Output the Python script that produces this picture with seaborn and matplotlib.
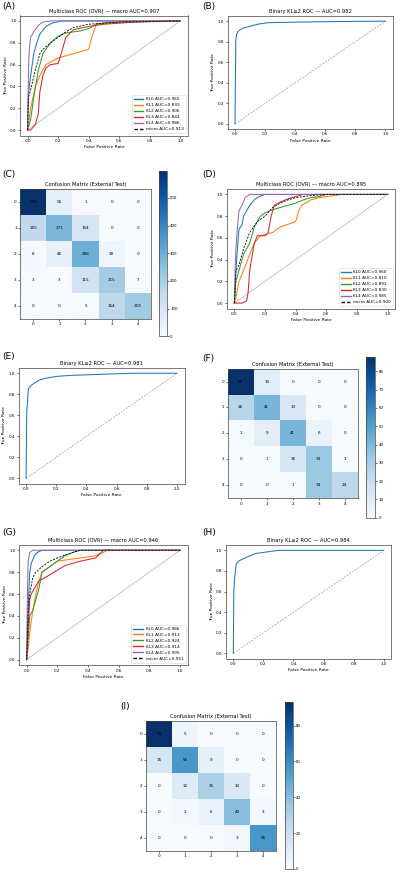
import numpy as np
import pandas as pd
import matplotlib
matplotlib.use('Agg')
import matplotlib.pyplot as plt
import seaborn as sns

# ---- data ----
CLASS_NAMES = ['KL0', 'KL1', 'KL2', 'KL3', 'KL4']
CM_TICKS = ['0', '1', '2', '3', '4']

# panel A: multiclass ROC, internal
auc_a = [0.965, 0.833, 0.906, 0.844, 0.986]
micro_auc_a = 0.913
macro_auc_a = 0.907
roc_a = [
    [(0, 0), (0.005, 0.33), (0.02, 0.5), (0.04, 0.7), (0.06, 0.8), (0.08, 0.88), (0.12, 0.95), (0.16, 0.98), (0.22, 1.0), (1, 1)],
    [(0, 0), (0.02, 0.2), (0.05, 0.4), (0.08, 0.5), (0.12, 0.6), (0.2, 0.66), (0.3, 0.7), (0.4, 0.74), (0.42, 0.85), (0.45, 0.97), (0.55, 0.99), (1, 1)],
    [(0, 0), (0.02, 0.1), (0.04, 0.3), (0.07, 0.55), (0.1, 0.7), (0.15, 0.8), (0.2, 0.86), (0.25, 0.89), (0.3, 0.9), (0.35, 0.91), (0.4, 0.93), (0.45, 0.97), (0.5, 0.98), (0.6, 0.99), (1, 1)],
    [(0, 0), (0.02, 0.0), (0.05, 0.05), (0.07, 0.15), (0.08, 0.35), (0.1, 0.5), (0.12, 0.57), (0.15, 0.6), (0.2, 0.61), (0.22, 0.7), (0.25, 0.85), (0.3, 0.92), (0.4, 0.95), (0.5, 0.97), (0.7, 0.99), (1, 1)],
    [(0, 0), (0.005, 0.5), (0.01, 0.73), (0.02, 0.85), (0.04, 0.9), (0.07, 0.96), (0.1, 0.99), (0.15, 1.0), (1, 1)],
]
micro_a = [(0, 0), (0.005, 0.3), (0.02, 0.37), (0.05, 0.55), (0.08, 0.7), (0.1, 0.74), (0.15, 0.8), (0.2, 0.85), (0.25, 0.9), (0.3, 0.94), (0.4, 0.97), (0.5, 0.98), (0.6, 0.99), (1, 1)]

# panel B: binary KL>=2 ROC
auc_b = 0.982
roc_b = [(0, 0), (0.003, 0.5), (0.005, 0.8), (0.01, 0.87), (0.02, 0.9), (0.05, 0.93), (0.1, 0.95), (0.15, 0.97), (0.22, 0.985), (0.4, 0.99), (0.6, 0.995), (1, 1)]

# panel C: confusion matrix
cm_c = [[598, 55, 1, 0, 0],
        [155, 271, 104, 0, 0],
        [8, 46, 296, 30, 0],
        [3, 3, 115, 215, 7],
        [0, 0, 5, 164, 219]]
cbar_ticks_c = [0, 100, 200, 300, 400, 500]

# panel D: multiclass ROC, external 1
auc_d = [0.960, 0.810, 0.893, 0.830, 0.985]
micro_auc_d = 0.900
macro_auc_d = 0.895
roc_d = [
    [(0, 0), (0.01, 0.3), (0.02, 0.5), (0.03, 0.68), (0.05, 0.72), (0.06, 0.8), (0.08, 0.85), (0.1, 0.9), (0.13, 0.95), (0.16, 0.98), (0.2, 1.0), (1, 1)],
    [(0, 0), (0.01, 0.05), (0.03, 0.2), (0.06, 0.3), (0.1, 0.45), (0.13, 0.55), (0.17, 0.62), (0.2, 0.63), (0.25, 0.65), (0.3, 0.7), (0.4, 0.75), (0.42, 0.85), (0.44, 0.9), (0.5, 0.95), (0.55, 0.97), (0.6, 0.98), (0.7, 1.0), (1, 1)],
    [(0, 0), (0.01, 0.2), (0.03, 0.3), (0.06, 0.45), (0.1, 0.55), (0.13, 0.7), (0.17, 0.8), (0.2, 0.83), (0.25, 0.86), (0.3, 0.88), (0.35, 0.9), (0.4, 0.92), (0.45, 0.95), (0.5, 0.97), (0.55, 0.98), (0.6, 1.0), (1, 1)],
    [(0, 0), (0.05, 0.0), (0.08, 0.02), (0.09, 0.1), (0.1, 0.3), (0.13, 0.55), (0.15, 0.62), (0.2, 0.62), (0.22, 0.65), (0.24, 0.8), (0.26, 0.9), (0.3, 0.93), (0.35, 0.96), (0.4, 0.98), (0.45, 1.0), (1, 1)],
    [(0, 0), (0.005, 0.3), (0.01, 0.5), (0.02, 0.7), (0.03, 0.85), (0.05, 0.9), (0.07, 0.97), (0.1, 1.0), (1, 1)],
]
micro_d = [(0, 0), (0.01, 0.3), (0.03, 0.35), (0.06, 0.5), (0.1, 0.65), (0.15, 0.75), (0.2, 0.8), (0.25, 0.88), (0.3, 0.92), (0.35, 0.95), (0.4, 0.97), (0.5, 0.99), (0.6, 1.0), (1, 1)]

# panel E: binary ROC, external 1
auc_e = 0.981
roc_e = [(0, 0), (0.005, 0.65), (0.01, 0.72), (0.015, 0.85), (0.03, 0.88), (0.05, 0.9), (0.08, 0.93), (0.12, 0.95), (0.2, 0.97), (0.3, 0.98), (0.5, 0.99), (0.7, 1.0), (1, 1)]

# panel F: confusion matrix, external 1
cm_f = [[88, 10, 0, 0, 0],
        [26, 41, 13, 0, 0],
        [1, 9, 41, 6, 0],
        [0, 1, 15, 34, 1],
        [0, 0, 1, 34, 24]]
cbar_ticks_f = [0, 10, 20, 30, 40, 50, 60, 70, 80]

# panel G: multiclass ROC, external 2
auc_g = [0.986, 0.913, 0.924, 0.914, 0.995]
micro_auc_g = 0.951
macro_auc_g = 0.946
roc_g = [
    [(0, 0), (0.01, 0.5), (0.02, 0.8), (0.03, 0.88), (0.05, 0.95), (0.07, 0.98), (0.1, 1.0), (1, 1)],
    [(0, 0), (0.01, 0.1), (0.02, 0.25), (0.04, 0.45), (0.06, 0.6), (0.08, 0.72), (0.1, 0.8), (0.15, 0.85), (0.2, 0.9), (0.3, 0.92), (0.45, 0.95), (0.5, 0.98), (0.52, 1.0), (1, 1)],
    [(0, 0), (0.01, 0.2), (0.02, 0.4), (0.04, 0.45), (0.06, 0.55), (0.08, 0.65), (0.1, 0.8), (0.15, 0.85), (0.2, 0.9), (0.25, 0.95), (0.3, 0.98), (0.35, 1.0), (1, 1)],
    [(0, 0), (0.01, 0.3), (0.02, 0.55), (0.03, 0.6), (0.05, 0.65), (0.08, 0.72), (0.12, 0.75), (0.18, 0.8), (0.25, 0.86), (0.35, 0.9), (0.45, 0.93), (0.5, 1.0), (1, 1)],
    [(0, 0), (0.005, 0.6), (0.01, 0.9), (0.02, 0.98), (0.04, 1.0), (1, 1)],
]
micro_g = [(0, 0), (0.01, 0.45), (0.02, 0.6), (0.04, 0.75), (0.06, 0.8), (0.1, 0.85), (0.15, 0.9), (0.2, 0.93), (0.3, 0.98), (0.35, 1.0), (1, 1)]

# panel H: binary ROC, external 2
auc_h = 0.984
roc_h = [(0, 0), (0.003, 0.6), (0.01, 0.75), (0.02, 0.87), (0.04, 0.9), (0.07, 0.92), (0.1, 0.94), (0.15, 0.97), (0.2, 0.98), (0.3, 1.0), (1, 1)]

# panel I: confusion matrix, external 2
cm_i = [[93, 5, 0, 0, 0],
        [15, 56, 9, 0, 0],
        [0, 12, 31, 14, 0],
        [0, 2, 6, 40, 3],
        [0, 0, 0, 3, 56]]
cbar_ticks_i = [0, 20, 40, 60, 80]

# ---- layout (pixels of a 400x876 canvas) ----
W, H = 400, 876
fig = plt.figure(figsize=(W / 100, H / 100), dpi=100)
colors = sns.color_palette('tab10')

TICK = 3.0
LAB = 3.2
TITLE = 3.7


def px_axes(x0, y0, x1, y1):
    return fig.add_axes([x0 / W, 1 - y1 / H, (x1 - x0) / W, (y1 - y0) / H])


def style_axes(ax):
    ax.tick_params(labelsize=TICK, length=1.5, width=0.4, pad=1)
    for s in ax.spines.values():
        s.set_linewidth(0.5)
        s.set_color('#444444')


def curve(ax, pts, **kw):
    df = pd.DataFrame(pts, columns=['fpr', 'tpr'])
    sns.lineplot(data=df, x='fpr', y='tpr', ax=ax, estimator=None, sort=False, **kw)


def roc_multi(box, rocs, aucs, micro, micro_auc, macro_auc):
    ax = px_axes(*box)
    ax.plot([0, 1], [0, 1], color='#aaaaaa', lw=0.45)
    for i, pts in enumerate(rocs):
        curve(ax, pts, color=colors[i], lw=0.75, label=f'{CLASS_NAMES[i]} AUC={aucs[i]:.3f}')
    curve(ax, micro, color='black', lw=0.6, linestyle=(0, (2.5, 1.5)), label=f'micro AUC={micro_auc:.3f}')
    ax.set_xlim(-0.05, 1.05)
    ax.set_ylim(-0.05, 1.05)
    ax.set_title(f'Multiclass ROC (OVR) — macro AUC={macro_auc:.3f}', fontsize=TITLE, pad=2)
    ax.set_xlabel('False Positive Rate', fontsize=LAB, labelpad=1.5)
    ax.set_ylabel('True Positive Rate', fontsize=LAB, labelpad=1.5)
    leg = ax.legend(loc='lower right', fontsize=3.1, frameon=True, handlelength=2.2,
                    borderpad=0.5, labelspacing=0.45, handletextpad=0.6, fancybox=True)
    leg.get_frame().set_linewidth(0.4)
    for h in leg.get_lines():
        h.set_linewidth(1.0)
    style_axes(ax)
    return ax


def roc_binary(box, pts, auc):
    ax = px_axes(*box)
    ax.plot([0, 1], [0, 1], color='#888888', lw=0.45, linestyle=(0, (3, 2)))
    curve(ax, pts, color=colors[0], lw=0.75)
    ax.set_xlim(-0.05, 1.05)
    ax.set_ylim(-0.05, 1.05)
    ax.set_title(f'Binary KL≥2 ROC — AUC={auc:.3f}', fontsize=TITLE, pad=2)
    ax.set_xlabel('False Positive Rate', fontsize=LAB, labelpad=1.5)
    ax.set_ylabel('True Positive Rate', fontsize=LAB, labelpad=1.5)
    style_axes(ax)
    return ax


def conf_matrix(box, cbox, cm, cticks):
    ax = px_axes(*box)
    cax = px_axes(*cbox)
    sns.heatmap(np.array(cm), ax=ax, cbar_ax=cax, cmap='Blues', annot=True, fmt='d',
                annot_kws={'size': 3.0, 'color': 'black'},
                xticklabels=CM_TICKS, yticklabels=CM_TICKS,
                cbar_kws={'ticks': cticks})
    ax.set_title('Confusion Matrix (External Test)', fontsize=TITLE, pad=2)
    ax.tick_params(axis='y', rotation=0)
    for s in ax.spines.values():
        s.set_visible(True)
    style_axes(ax)
    cbar = ax.collections[0].colorbar
    cbar.ax.tick_params(labelsize=TICK - 0.2, length=1.5, width=0.4, pad=1)
    cbar.outline.set_linewidth(0.5)
    cbar.outline.set_edgecolor('#444444')
    return ax


roc_multi((20, 15.5, 188, 135.5), roc_a, auc_a, micro_a, micro_auc_a, macro_auc_a)
roc_binary((227.5, 16, 393, 129), roc_b, auc_b)
conf_matrix((20.3, 189, 150.7, 318.7), (158.7, 170.7, 166.7, 336.3), cm_c, cbar_ticks_c)
roc_multi((226.7, 189, 395.3, 308.5), roc_d, auc_d, micro_d, micro_auc_d, macro_auc_d)
roc_binary((18.5, 368, 184.5, 483.6), roc_e, auc_e)
conf_matrix((227.7, 368.6, 357.7, 498.2), (366.3, 356.7, 375, 517.7), cm_f, cbar_ticks_f)
roc_multi((19, 544.8, 187.7, 665.1), roc_g, auc_g, micro_g, micro_auc_g, macro_auc_g)
roc_binary((225.8, 545.2, 391.2, 658.5), roc_h, auc_h)
conf_matrix((146, 720.6, 276.4, 851), (285, 702.3, 292.7, 869), cm_i, cbar_ticks_i)

# panel letters
letters = [('(A)', 2, 7), ('(B)', 202, 7), ('(C)', 2, 175), ('(D)', 202, 174),
           ('(E)', 2, 357), ('(F)', 202, 358), ('(G)', 2, 532), ('(H)', 202, 532),
           ('(I)', 120, 707)]
for txt, x, y in letters:
    fig.text(x / W, 1 - y / H, txt, fontsize=6.5, ha='left', va='center')

fig.savefig('out.png', dpi=100)
